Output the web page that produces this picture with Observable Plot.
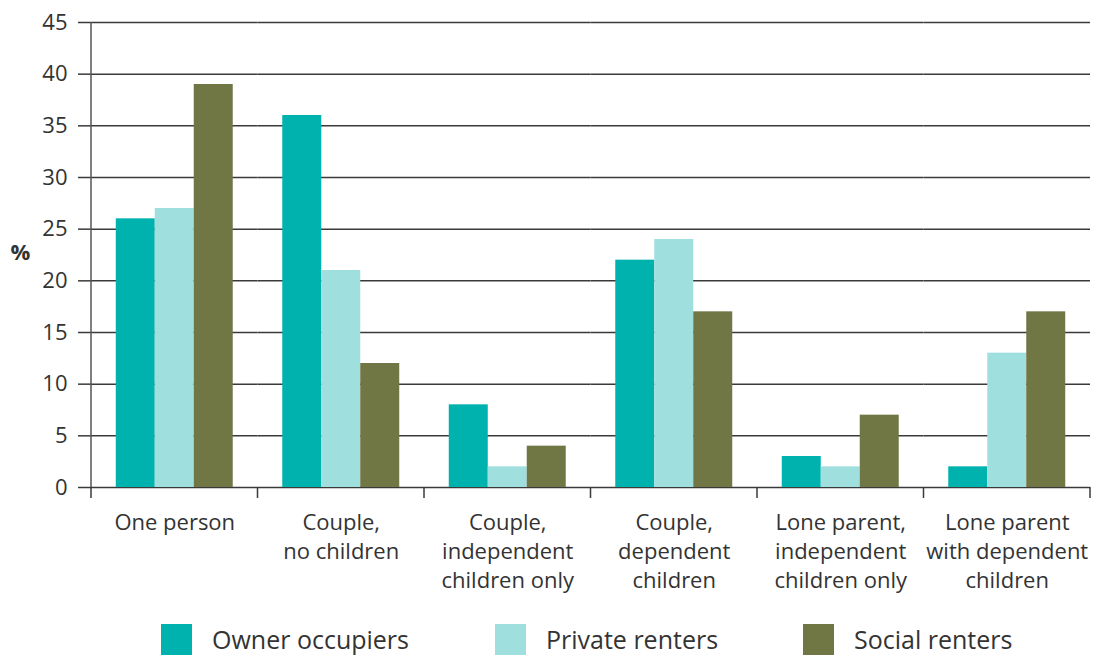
<!DOCTYPE html>
<html><head><meta charset="utf-8">
<script src="https://cdn.jsdelivr.net/npm/d3@7"></script>
<script src="https://cdn.jsdelivr.net/npm/@observablehq/plot@0.6"></script>
<style>
body{margin:0;background:#fff;font-family:"Open Sans",sans-serif;color:#333}
#legend{display:flex;align-items:center;padding-left:161px;padding-top:23px;height:32px;font-size:25px;color:#333}
.item{display:flex;align-items:center}
.item:nth-child(1){width:334px}
.item:nth-child(2){width:308px}
.sw{width:31px;height:31px;margin-right:20px}
</style></head><body><div id="chart"></div><div id="legend"></div>
<script>
const categories = ["One person", "Couple,\nno children", "Couple,\nindependent\nchildren only", "Couple,\ndependent\nchildren", "Lone parent,\nindependent\nchildren only", "Lone parent\nwith dependent\nchildren"];
const seriesNames = ["Owner occupiers", "Private renters", "Social renters"];
const ownerOccupiers = [26, 36, 8, 22, 3, 2];
const privateRenters = [27, 21, 2, 24, 2, 13];
const socialRenters = [39, 12, 4, 17, 7, 17];
const yTicks = [0, 5, 10, 15, 20, 25, 30, 35, 40, 45];
const colors = ["#00b2ad", "#9fdfde", "#717744"];

const seriesValues = [ownerOccupiers, privateRenters, socialRenters];
const rows = [];
categories.forEach((c, i) => seriesNames.forEach((s, j) => rows.push({category: c, series: s, value: seriesValues[j][i]})));

const chart = Plot.plot({
  width: 1095, height: 600, marginLeft: 91, marginRight: 5, marginTop: 22, marginBottom: 113,
  style: {fontFamily: "Open Sans", color: "#333", background: "#fff"},
  fx: {domain: categories, padding: 0, round: false},
  x: {domain: seriesNames, paddingInner: 0, paddingOuter: 0.635, round: false, axis: null},
  y: {domain: [0, 45]},
  color: {domain: seriesNames, range: colors},
  marks: [
    Plot.ruleY(yTicks, {stroke: "#3a3a3a", strokeWidth: 1.5}),
    Plot.barY(rows, {fx: "category", x: "series", y: "value", fill: "series"}),
    Plot.axisY({ticks: yTicks, tickSize: 13, tickPadding: 11, fontSize: 22, label: null, stroke: "#3a3a3a", strokeWidth: 1.5}),
    Plot.axisFx({anchor: "bottom", tickSize: 0, tickPadding: 22, fontSize: 22, lineHeight: 1.32, label: null}),
    Plot.text(["%"], {fx: () => categories[0], frameAnchor: "left", textAnchor: "middle", dx: -71, dy: -2, fontSize: 22, fontWeight: "bold"})
  ]
});
document.getElementById("chart").append(chart);

// category boundary ticks and y axis line, positioned from Plot's scales
const fx = chart.scale("fx"), y = chart.scale("y");
const svg = d3.select(chart);
const y0 = y.apply(0), yTop = y.apply(45);
const edges = categories.map(c => fx.apply(c));
edges.push(fx.apply(categories[categories.length - 1]) + fx.bandwidth);
svg.append("g").attr("stroke", "#3a3a3a").attr("stroke-width", 1.5)
  .selectAll("line").data(edges).join("line")
  .attr("x1", d => d).attr("x2", d => d).attr("y1", y0).attr("y2", y0 + 11);
svg.append("line").attr("stroke", "#555").attr("stroke-width", 1.5)
  .attr("x1", edges[0]).attr("x2", edges[0]).attr("y1", yTop).attr("y2", y0);

const legend = d3.select("#legend");
seriesNames.forEach((s, i) => {
  const it = legend.append("div").attr("class", "item");
  it.append("div").attr("class", "sw").style("background", colors[i]);
  it.append("span").text(s);
});
</script></body></html>
